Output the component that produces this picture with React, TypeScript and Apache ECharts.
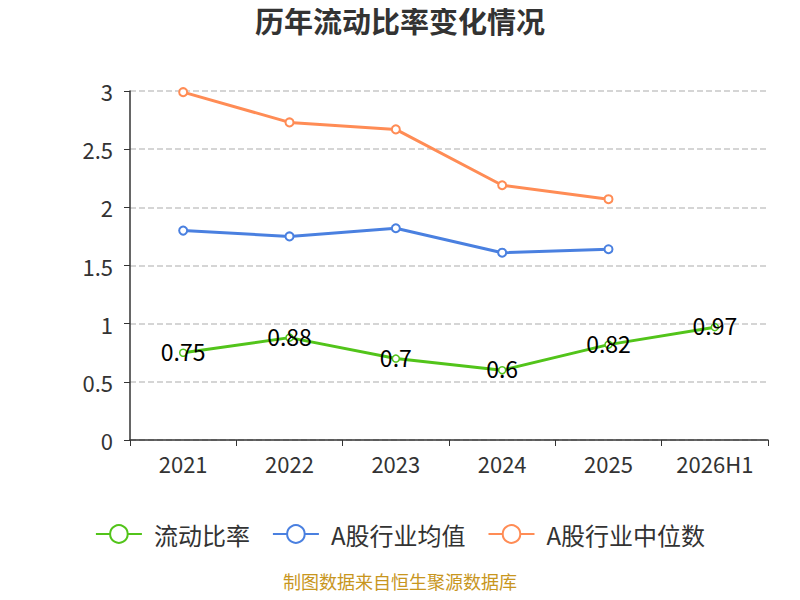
import { useRef, useEffect } from 'react';
import * as echarts from 'echarts';

const years = ['2021', '2022', '2023', '2024', '2025', '2026H1'];
const currentRatio = [0.75, 0.88, 0.7, 0.6, 0.82, 0.97];
const industryMean = [1.8, 1.75, 1.82, 1.61, 1.64];
const industryMedian = [2.99, 2.73, 2.67, 2.19, 2.07];
const yTicks = { min: 0, max: 3, interval: 0.5 };

const GREEN = '#52c41a';
const BLUE = '#4a80e0';
const ORANGE = '#ff8c55';

export default function App() {
  const chartRef = useRef<HTMLDivElement>(null);
  useEffect(() => {
    let chart: echarts.ECharts | undefined;
    if (chartRef.current) {
      chart = echarts.init(chartRef.current, undefined, { renderer: 'svg' });
      chart.setOption({
        animation: false,
        textStyle: { fontFamily: 'Noto Sans CJK SC' },
        title: {
          text: '历年流动比率变化情况',
          left: 'center',
          top: 0,
          textStyle: { fontSize: 29, fontWeight: 'bold', color: '#333' },
        },
        graphic: [
          {
            type: 'text',
            left: 'center',
            top: 572,
            style: {
              text: '制图数据来自恒生聚源数据库',
              fill: '#c8961e',
              fontSize: 18,
              fontFamily: 'Noto Sans CJK SC',
            },
          },
        ],
        legend: {
          bottom: 49,
          left: 'center',
          itemWidth: 46,
          itemHeight: 22,
          itemGap: 22,
          textStyle: { fontSize: 24, color: '#333', padding: [0, 0, 0, 7] },
          data: ['流动比率', 'A股行业均值', 'A股行业中位数'],
        },
        grid: { left: 130, right: 32, top: 91, bottom: 160 },
        xAxis: {
          type: 'category',
          data: years,
          boundaryGap: true,
          axisLine: { lineStyle: { color: '#333', width: 1.5 } },
          axisTick: { show: true, length: 6, lineStyle: { color: '#333' } },
          axisLabel: { fontSize: 22, color: '#333', margin: 12 },
        },
        yAxis: {
          type: 'value',
          min: yTicks.min,
          max: yTicks.max,
          interval: yTicks.interval,
          axisLine: { show: true, lineStyle: { color: '#333', width: 1.5 } },
          axisTick: { show: true, length: 6, lineStyle: { color: '#333' } },
          axisLabel: { fontSize: 22, color: '#333', margin: 17 },
          splitLine: { lineStyle: { type: 'dashed', color: '#c8c8c8', width: 1.5 } },
        },
        series: [
          {
            name: '流动比率',
            type: 'line',
            data: currentRatio,
            lineStyle: { width: 3, color: GREEN },
            symbol: 'circle',
            symbolSize: 7,
            itemStyle: { color: '#fff', borderColor: GREEN, borderWidth: 1.5 },
            label: {
              show: true,
              position: 'inside',
              fontSize: 23,
              color: '#000',
              offset: [0, -2],
            },
          },
          {
            name: 'A股行业均值',
            type: 'line',
            data: industryMean,
            lineStyle: { width: 3, color: BLUE },
            symbol: 'circle',
            symbolSize: 8,
            itemStyle: { color: '#fff', borderColor: BLUE, borderWidth: 2 },
          },
          {
            name: 'A股行业中位数',
            type: 'line',
            data: industryMedian,
            lineStyle: { width: 3, color: ORANGE },
            symbol: 'circle',
            symbolSize: 8,
            itemStyle: { color: '#fff', borderColor: ORANGE, borderWidth: 2 },
          },
        ],
      });
    }
    return () => {
      chart?.dispose();
    };
  }, []);

  return <div ref={chartRef} style={{ height: 600, width: 800, margin: -8 }} />;
}
